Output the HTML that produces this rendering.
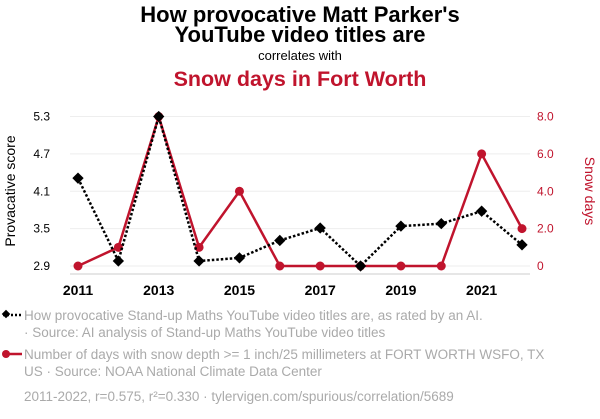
<!DOCTYPE html>
<html><head><meta charset="utf-8"><style>
body{margin:0;background:#fff;width:600px;height:414px;overflow:hidden;font-family:"Liberation Sans",sans-serif}
text{font-family:"Liberation Sans",sans-serif}
</style></head><body>
<svg id="chart" width="600" height="414" xmlns="http://www.w3.org/2000/svg">
<text x="300" y="22" text-anchor="middle" font-size="22" font-weight="bold" fill="#000">How provocative Matt Parker's</text>
<text x="300" y="42" text-anchor="middle" font-size="22" font-weight="bold" fill="#000">YouTube video titles are</text>
<text x="300" y="60" text-anchor="middle" font-size="13" fill="#000">correlates with</text>
<text x="300" y="86" text-anchor="middle" font-size="21.5" font-weight="bold" fill="#c0142d">Snow days in Fort Worth</text>
<g id="grid"></g>
<g id="axes"></g>
<g id="series"></g>
<text transform="translate(15,191) rotate(-90)" text-anchor="middle" font-size="14" fill="#000">Provacative score</text>
<text transform="translate(585,191) rotate(90)" text-anchor="middle" font-size="14" fill="#c0142d">Snow days</text>
<g>
<line x1="3" y1="315" x2="22" y2="315" stroke="#000" stroke-width="2.5" stroke-dasharray="2,2"/>
<rect x="3" y="311" width="6" height="6" transform="rotate(45 6 314)" fill="#000"/>
<text x="24" y="320" font-size="13.5" fill="#aaa">How provocative Stand-up Maths YouTube video titles are, as rated by an AI.</text>
<text x="24" y="337" font-size="13.5" fill="#aaa">· Source: AI analysis of Stand-up Maths YouTube video titles</text>
</g>
<g>
<line x1="3" y1="354" x2="22" y2="354" stroke="#c0142d" stroke-width="2.5"/>
<circle cx="6" cy="354" r="4" fill="#c0142d"/>
<text x="24" y="359" font-size="13.5" fill="#aaa">Number of days with snow depth &gt;= 1 inch/25 millimeters at FORT WORTH WSFO, TX</text>
<text x="24" y="376" font-size="13.5" fill="#aaa">US · Source: NOAA National Climate Data Center</text>
</g>
<text x="24" y="401" font-size="13.5" fill="#aaa">2011-2022, r=0.575, r²=0.330 · tylervigen.com/spurious/correlation/5689</text>
</svg>
<script>
const years=[2011,2012,2013,2014,2015,2016,2017,2018,2019,2020,2021,2022];
const scoreValues=[4.31,2.98,5.3,2.98,3.03,3.31,3.51,2.9,3.54,3.58,3.78,3.24];
const snowValues=[0,1,8,1,4,0,0,0,0,0,6,2];
const leftTicks=[2.9,3.5,4.1,4.7,5.3];
const rightTicks=[0,2,4,6,8];
const xTicks=[2011,2013,2015,2017,2019,2021];
const NS="http://www.w3.org/2000/svg";
const x=y=>78+(y-2011)*(522-78)/11;
const yL=v=>266-(v-2.9)*(266-116.5)/2.4;
const yR=v=>266-v*(266-116.5)/8;
function mk(t,a,p){const e=document.createElementNS(NS,t);for(const k in a)e.setAttribute(k,a[k]);p.appendChild(e);return e;}
const grid=document.getElementById('grid'),axes=document.getElementById('axes'),ser=document.getElementById('series');
leftTicks.forEach((v,i)=>{
 const g=mk('line',{x1:70,x2:530,y1:yL(v),y2:yL(v),stroke:'#eee','stroke-width':1},grid);
 
 
 const t=mk('text',{x:50,y:yL(v)+4,'text-anchor':'end','font-size':12,fill:'#000'},axes);t.textContent=v.toFixed(1);
 
 
});
rightTicks.forEach(v=>{
 const t=mk('text',{x:537,y:yR(v)+4,'text-anchor':'start','font-size':12,fill:'#c0142d'},axes);t.textContent=v===0?'0':v.toFixed(1);
 
 
});
const ax=mk('line',{x1:70,x2:530,y1:274,y2:274,stroke:'#ccc','stroke-width':1},axes);


xTicks.forEach(v=>{
 const t=mk('text',{x:x(v),y:295,'text-anchor':'middle','font-size':14,'font-weight':'bold',fill:'#000'},axes);t.textContent=v;
 
 
});
const sl=mk('polyline',{points:years.map((y,i)=>x(y)+','+yR(snowValues[i])).join(' '),fill:'none',stroke:'#c0142d','stroke-width':2.5},ser);


years.forEach((y,i)=>{const c=mk('circle',{cx:x(y),cy:yR(snowValues[i]),r:4.5,fill:'#c0142d'},ser);
 
 });
const pl=mk('polyline',{points:years.map((y,i)=>x(y)+','+yL(scoreValues[i])).join(' '),fill:'none',stroke:'#000','stroke-width':2.5,'stroke-dasharray':'2.5,2'},ser);


years.forEach((y,i)=>{const cx=x(y),cy=yL(scoreValues[i]);
 const r=mk('rect',{x:cx-4,y:cy-4,width:8,height:8,fill:'#000',transform:`rotate(45 ${cx} ${cy})`},ser);
 
 });
</script>
</body></html>
